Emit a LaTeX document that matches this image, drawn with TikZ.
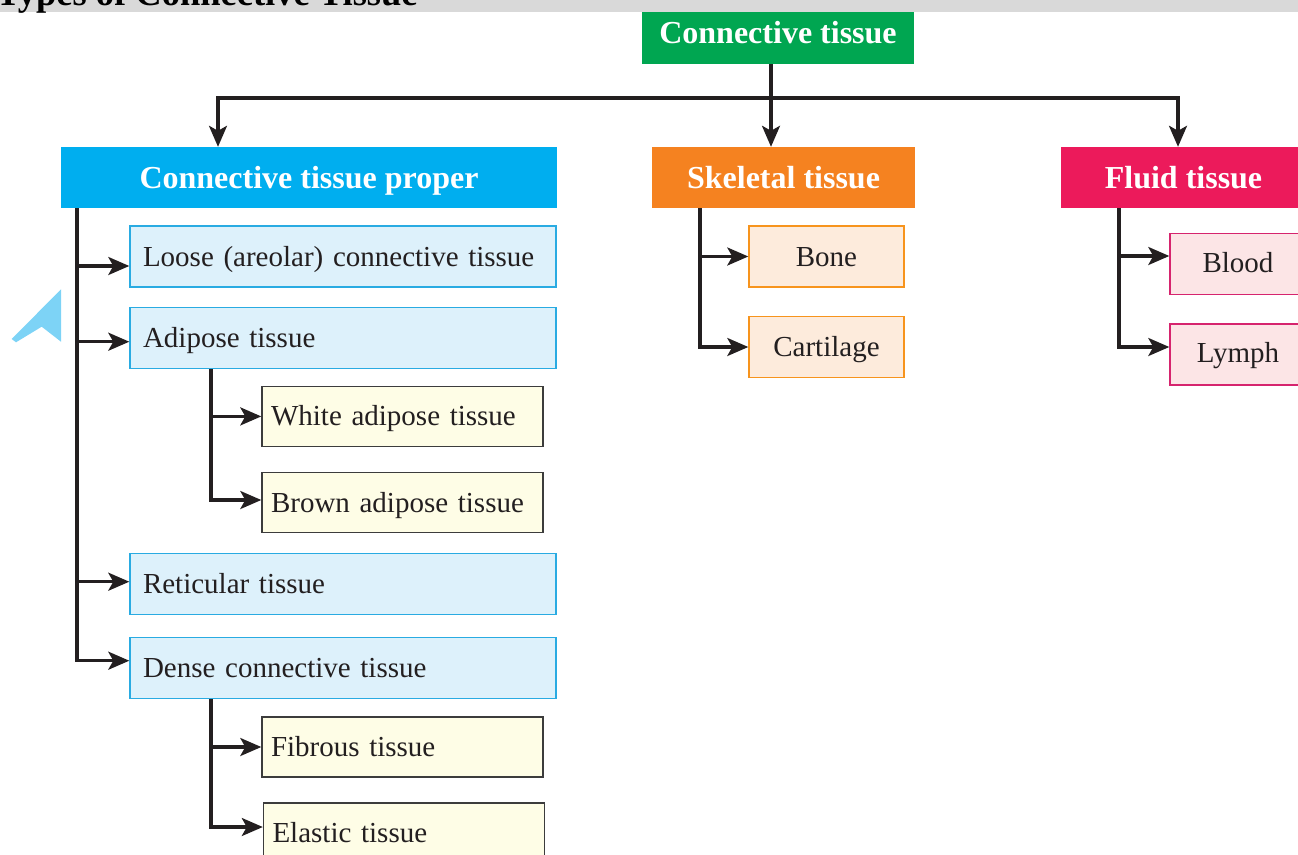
\documentclass[tikz,border=0pt]{standalone}
\usepackage{fontspec}
\setmainfont{Liberation Serif}
\usetikzlibrary{arrows.meta}
\definecolor{ink}{HTML}{231F20}
\definecolor{bandgray}{HTML}{D9D9D9}
\definecolor{ctgreen}{HTML}{00A651}
\definecolor{ctpblue}{HTML}{00AEEF}
\definecolor{skorange}{HTML}{F58220}
\definecolor{flpink}{HTML}{EC1A5B}
\definecolor{lbluefill}{HTML}{DDF1FB}
\definecolor{lblueedge}{HTML}{29ABE2}
\definecolor{creamfill}{HTML}{FEFDE6}
\definecolor{creamedge}{HTML}{3C3C3C}
\definecolor{peachfill}{HTML}{FDEBDC}
\definecolor{peachedge}{HTML}{F7941D}
\definecolor{pinkfill}{HTML}{FCE5E6}
\definecolor{pinkedge}{HTML}{D6246E}
\definecolor{cursorblue}{HTML}{7DD3F6}
\begin{document}
\begin{tikzpicture}[x=1pt,y=-1pt,
  conn/.style={line width=3.1pt, draw=ink},
  arr/.style={conn, -{Stealth[length=21pt,width=18pt,inset=5pt]}},
  hdr/.style={rectangle, inner sep=0pt, text=white,
    font=\bfseries\fontsize{32}{38}\selectfont, minimum height=61pt,
    text height=21pt, text depth=0pt},
  sub/.style={rectangle, inner sep=0pt, line width=1.4pt, text=ink,
    font=\fontsize{29}{34}\selectfont, minimum height=61pt,
    text height=19pt, text depth=0pt},
  bluebox/.style={sub, fill=lbluefill, draw=lblueedge, text width=400pt,
    align=left, inner xsep=13pt},
  creambox/.style={sub, fill=creamfill, draw=creamedge, text width=263pt,
    align=left, inner xsep=9pt, minimum height=60pt},
  peachbox/.style={sub, fill=peachfill, draw=peachedge, minimum width=155pt},
  pinkbox/.style={sub, fill=pinkfill, draw=pinkedge, minimum width=136pt,
    text depth=3pt}
]
\useasboundingbox (0,0) rectangle (1298,854);
\clip (0,0) rectangle (1298,854);

% title band
\fill[bandgray] (0,0) rectangle (1298,12);
\node[anchor=base west, inner sep=0pt, text=black,
  font=\bfseries\fontsize{36.5}{40}\selectfont] (title) at (-4,5)
  {Types of Connective Tissue};

% cursor-like shape
\fill[cursorblue] (61,289.3) -- (11.7,339) -- (16,342.3) -- (41.7,326.7)
  -- (61,341.7) -- cycle;

% top node
\node[hdr, fill=ctgreen, minimum width=272pt, minimum height=52pt,
  text depth=11pt] (ct) at (778,38) {Connective tissue};

% headers
\node[hdr, fill=ctpblue, minimum width=496pt] (ctp) at (309,177.5)
  {Connective tissue proper};
\node[hdr, fill=skorange, minimum width=263pt] (skel) at (783.5,177.5)
  {Skeletal tissue};
\node[hdr, fill=flpink, minimum width=245pt] (fluid) at (1183.5,177.5)
  {Fluid tissue};

% connective tissue proper children
\node[bluebox] (loose) at (343,256.5) {Loose (areolar) connective tissue};
\node[bluebox] (adip) at (343,338.2) {Adipose tissue};
\node[bluebox] (retic) at (343,584) {Reticular tissue};
\node[bluebox] (dense) at (343,668) {Dense connective tissue};
\node[creambox] (white) at (402.5,416.4) {White adipose tissue};
\node[creambox] (brown) at (402.5,502.5) {Brown adipose tissue};
\node[creambox] (fibr) at (402.5,747) {Fibrous tissue};
\node[creambox] (elas) at (404,833) {Elastic tissue};

% skeletal children
\node[peachbox] (bone) at (826.5,256.5) {Bone};
\node[peachbox] (cart) at (826.5,347) {Cartilage};

% fluid children
\node[pinkbox] (blood) at (1238,264) {Blood};
\node[pinkbox] (lymph) at (1238,354.5) {Lymph};

% connectors from top
\coordinate (jx) at (771,98);
\coordinate (lx) at (218,0);
\coordinate (rx) at (1178,0);
\draw[arr] (ct.south -| jx) -- (skel.north -| jx);
\draw[arr] (jx) -| (ctp.north -| lx);
\draw[arr] (jx) -| (fluid.north -| rx);

% trunks
\coordinate (t1) at (77,0);
\coordinate (t2) at (211,0);
\coordinate (t3) at (700,0);
\coordinate (t4) at (1119,0);
\draw[arr] (ctp.south -| t1) |- ([yshift=-9.5pt]loose.west);
\draw[arr] (ctp.south -| t1) |- ([yshift=-3.5pt]adip.west);
\draw[arr] (ctp.south -| t1) |- ([yshift=2.3pt]retic.west);
\draw[arr] (ctp.south -| t1) |- ([yshift=7.3pt]dense.west);
\draw[arr] (adip.south -| t2) |- (white.west);
\draw[arr] (adip.south -| t2) |- ([yshift=2.5pt]brown.west);
\draw[arr] (dense.south -| t2) |- (fibr.west);
\draw[arr] (dense.south -| t2) |- ([yshift=6pt]elas.west);
\draw[arr] (skel.south -| t3) |- (bone.west);
\draw[arr] (skel.south -| t3) |- (cart.west);
\draw[arr] (fluid.south -| t4) |- ([yshift=8pt]blood.west);
\draw[arr] (fluid.south -| t4) |- ([yshift=7.5pt]lymph.west);
\end{tikzpicture}
\end{document}
